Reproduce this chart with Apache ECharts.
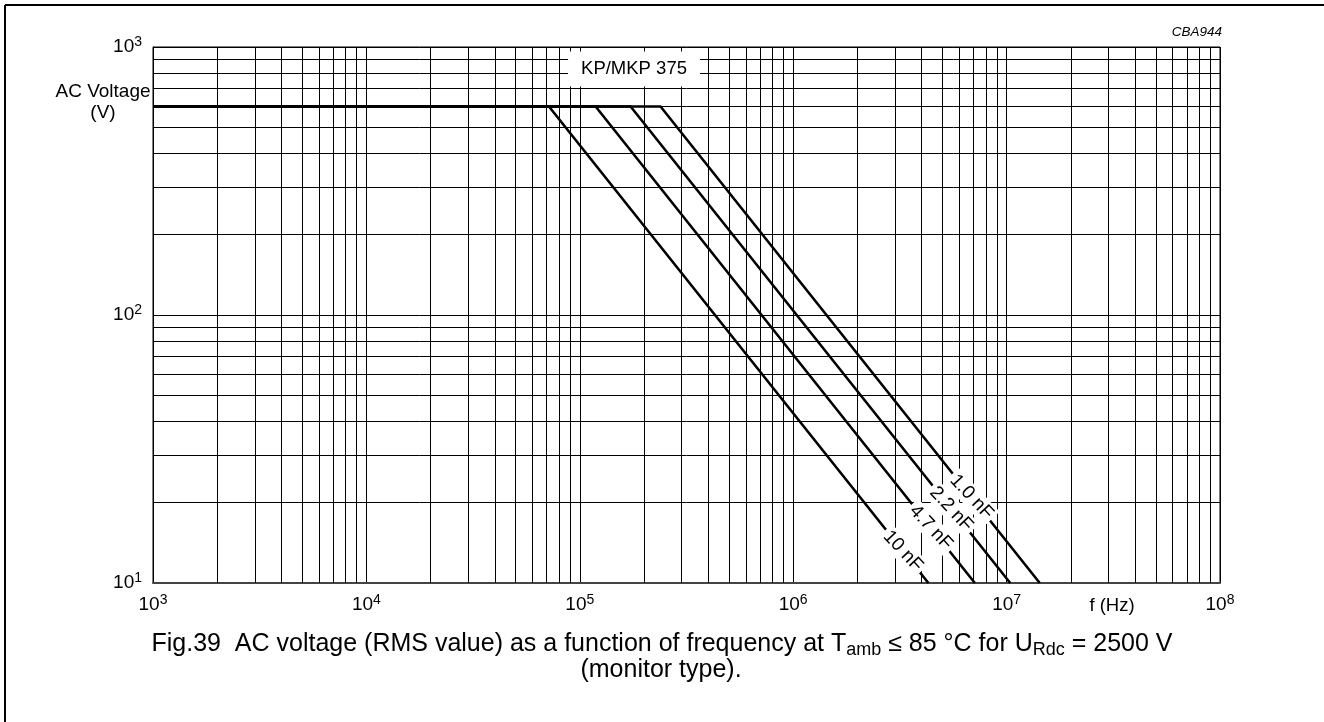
<!DOCTYPE html>
<html>
<head>
<meta charset="utf-8">
<script src="https://cdn.jsdelivr.net/npm/echarts@6/dist/echarts.min.js"></script>
<style>
html,body{margin:0;padding:0;background:#fff;}
#chart{width:1324px;height:722px;}
</style>
</head>
<body>
<div id="chart"></div>
<script>
// ---- data ----
const seriesNames = ['1.0 nF', '2.2 nF', '4.7 nF', '10 nF'];
const startFreq = [1e3, 1e3, 1e3, 1e3];          // Hz
const flatVoltage = [600, 600, 600, 600];        // V (RMS)
const kneeFreq = [2.39e5, 1.73e5, 1.186e5, 7.17e4]; // Hz, end of flat part
const endFreq = [1.43e7, 1.04e7, 7.1e6, 4.3e6];  // Hz, where curve reaches 10 V
const endVoltage = [10, 10, 10, 10];             // V
const labelFreq = [6.85e6, 5.5e6, 4.42e6, 3.27e6]; // Hz, where label sits on curve
const xTickLabels = ['3', '4', '5', '6', '7', '8']; // exponents 10^n
const yTickLabels = ['1', '2', '3'];
const gridMultipliers = [2, 3, 4, 5, 6, 7, 8, 9];
const xDecades = [1e3, 1e4, 1e5, 1e6, 1e7];
const yDecades = [10, 100];

const FONT = 'Liberation Sans, Arial, Helvetica, sans-serif';

const xMinor = [];
xDecades.forEach(d => gridMultipliers.forEach(m => xMinor.push({ xAxis: d * m })));
const yMinor = [];
yDecades.forEach(d => gridMultipliers.forEach(m => yMinor.push({ yAxis: d * m })));

const lineSeries = seriesNames.map((n, i) => ({
  name: n,
  type: 'line',
  z: 3,
  symbol: 'none',
  silent: true,
  animation: false,
  lineStyle: { color: '#000', width: 2.6 },
  data: [
    [startFreq[i], flatVoltage[i]],
    [kneeFreq[i], flatVoltage[i]],
    [endFreq[i], endVoltage[i]]
  ]
}));

// label anchors lying on each curve (V = Vflat * knee / f on the sloped part)
const labelData = seriesNames.map((n, i) => [labelFreq[i], flatVoltage[i] * kneeFreq[i] / labelFreq[i], i]);

const chart = echarts.init(document.getElementById('chart'), null, { renderer: 'canvas' });

const axisRich = {
  b: { fontSize: 19, fontFamily: FONT, color: '#000', lineHeight: 24, verticalAlign: 'middle' },
  s: { fontSize: 14, fontFamily: FONT, color: '#000', lineHeight: 11, verticalAlign: 'top' }
};

chart.setOption({
  animation: false,
  backgroundColor: '#fff',
  grid: { left: 153, right: 104, top: 47, bottom: 139, show: true, borderColor: '#000', borderWidth: 1, backgroundColor: 'transparent' },
  xAxis: {
    type: 'log', logBase: 10, min: 1e3, max: 1e8,
    axisLine: { show: true, lineStyle: { color: '#444', width: 2 } },
    axisTick: { show: false },
    splitLine: { show: true, lineStyle: { color: '#000', width: 1 } },
    axisLabel: {
      margin: 10,
      formatter: v => '{b|10}{s|' + xTickLabels[Math.round(Math.log10(v)) - 3] + '}',
      rich: axisRich
    }
  },
  yAxis: {
    type: 'log', logBase: 10, min: 10, max: 1000,
    axisLine: { show: true, lineStyle: { color: '#000', width: 1 } },
    axisTick: { show: false },
    splitLine: { show: true, lineStyle: { color: '#000', width: 1 } },
    axisLabel: {
      margin: 11,
      formatter: v => '{b|10}{s|' + yTickLabels[Math.round(Math.log10(v)) - 1] + '}',
      rich: axisRich
    }
  },
  series: [
    {
      type: 'line', data: [], silent: true, z: 1,
      markLine: {
        silent: true, symbol: 'none', animation: false,
        label: { show: false },
        lineStyle: { color: '#000', width: 1, type: 'solid' },
        data: xMinor.concat(yMinor)
      }
    },
    ...lineSeries,
    {
      type: 'custom', z: 10, silent: true,
      data: labelData,
      renderItem: (params, api) => {
        const p = api.coord([api.value(0), api.value(1)]);
        return {
          type: 'text',
          x: p[0], y: p[1],
          rotation: -47 * Math.PI / 180,
          z2: 100,
          style: {
            text: seriesNames[api.value(2)],
            fill: '#000',
            font: '19px ' + FONT,
            align: 'center',
            verticalAlign: 'middle',
            backgroundColor: '#fff',
            padding: [1, 3]
          }
        };
      }
    }
  ],
  graphic: [
    { type: 'line', z: 10, shape: { x1: 5, y1: 5, x2: 5, y2: 722 }, style: { stroke: '#000', lineWidth: 2 } },
    { type: 'line', z: 10, shape: { x1: 5, y1: 5, x2: 1324, y2: 5 }, style: { stroke: '#000', lineWidth: 2 } },
    { type: 'text', z: 10, x: 1222, y: 32,
      style: { text: 'CBA944', font: 'italic 13.5px ' + FONT, fill: '#000', textAlign: 'right', textVerticalAlign: 'middle' } },
    { type: 'text', z: 10, x: 103, y: 102,
      style: { text: 'AC Voltage\n(V)', font: '19px ' + FONT, fill: '#000', textAlign: 'center', textVerticalAlign: 'middle', lineHeight: 21 } },
    { type: 'text', z: 10, x: 1112, y: 606,
      style: { text: 'f (Hz)', font: '18.5px ' + FONT, fill: '#000', textAlign: 'center', textVerticalAlign: 'middle' } },
    { type: 'text', z: 20, x: 634, y: 69,
      style: { text: 'KP/MKP 375', font: '18.5px ' + FONT, fill: '#000', textAlign: 'center', textVerticalAlign: 'middle',
        backgroundColor: '#fff', padding: [8, 13] } },
    { type: 'text', z: 10, x: 662, y: 644,
      style: {
        text: 'Fig.39  AC voltage (RMS value) as a function of frequency at T{sub|amb} ≤ 85 °C for U{sub|Rdc} = 2500 V',
        fontSize: 25, fontFamily: FONT, fill: '#000', textAlign: 'center', textVerticalAlign: 'middle', lineHeight: 30,
        rich: { sub: { fontSize: 18, fontFamily: FONT, lineHeight: 16, verticalAlign: 'bottom' } }
      } },
    { type: 'text', z: 10, x: 661, y: 670,
      style: { text: '(monitor type).', fontSize: 25, fontFamily: FONT, fill: '#000', textAlign: 'center', textVerticalAlign: 'middle' } }
  ]
});
</script>
</body>
</html>
